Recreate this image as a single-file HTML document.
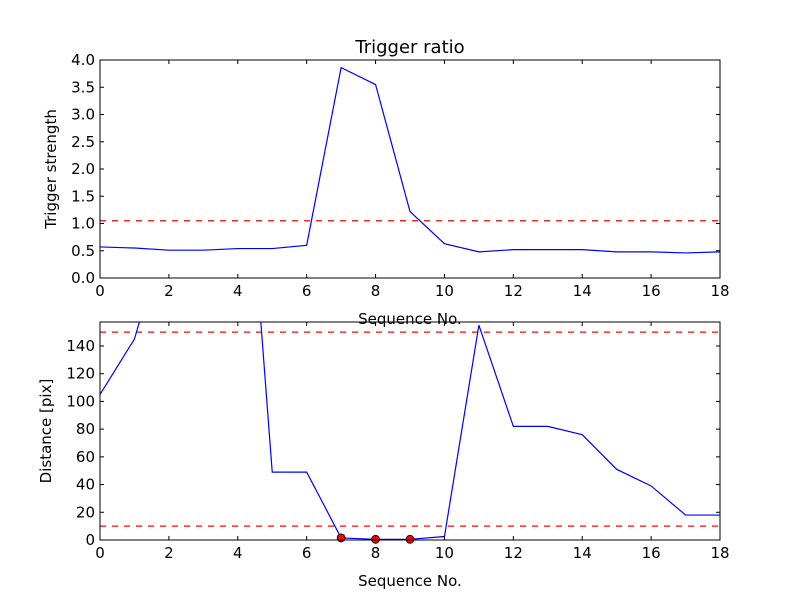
<!DOCTYPE html>
<html><head><meta charset="utf-8"><style>
body{margin:0;background:#fff;}
svg text{font-family:"DejaVu Sans","Liberation Sans",sans-serif;}
</style></head><body>
<svg id="chart" width="800" height="600" viewBox="0 0 800 600" xmlns="http://www.w3.org/2000/svg">
<rect width="800" height="600" fill="#fff"/>
</svg>
<script>
const seqNo = [0,1,2,3,4,5,6,7,8,9,10,11,12,13,14,15,16,17,18];
const triggerStrength = [0.57,0.55,0.51,0.51,0.54,0.54,0.6,3.86,3.55,1.22,0.63,0.48,0.52,0.52,0.52,0.48,0.48,0.46,0.48];
const triggerThreshold = [1.05];
const distance = [105,145,231,300,376,49,49,1.5,0.5,0.5,2.5,155,82,82,76,51,39,18,18];
const distThresholds = [150,10];
const markedIdx = [7,8,9];
const xTicks = [0,2,4,6,8,10,12,14,16,18];
const yTicksTop = [0,0.5,1.0,1.5,2.0,2.5,3.0,3.5,4.0];
const yTicksBot = [0,20,40,60,80,100,120,140];

const svg = document.getElementById('chart');
const NS = 'http://www.w3.org/2000/svg';
function mk(tag, attrs, parent){const e=document.createElementNS(NS,tag);for(const k in attrs)e.setAttribute(k,attrs[k]);(parent||svg).appendChild(e);return e;}

function panel(cfg){
  const {top,bot,ymin,ymax,yTicks,fmt,name} = cfg;
  const L=100,R=720;
  const x=v=>L+(v-0)/(18-0)*(R-L);
  const y=v=>bot-(v-ymin)/(ymax-ymin)*(bot-top);
  const g = mk('g',{});
  
  
  const cid = 'clip-'+name;
  const cp = mk('clipPath',{id:cid},g); mk('rect',{x:L,y:top,width:R-L,height:bot-top},cp);
  const plot = mk('g',{'clip-path':'url(#'+cid+')'},g);
  // thresholds
  cfg.thr.forEach(t=>{
    const l = mk('line',{x1:L,x2:R,y1:y(t),y2:y(t),stroke:'#ff0000','stroke-width':1.2,'stroke-dasharray':'6,6'},plot);
    
    
  });
  const pts = cfg.vals.map((v,i)=>x(seqNo[i])+','+y(v)).join(' ');
  const pl = mk('polyline',{points:pts,fill:'none',stroke:'#0000ff','stroke-width':1.2},plot);
  
  
  (cfg.markers||[]).forEach(i=>{
    const c = mk('circle',{cx:x(seqNo[i]),cy:y(cfg.vals[i]),r:4,fill:'#ff0000',stroke:'#000','stroke-width':0.8},g);
    
    
  });
  const frame = mk('rect',{x:L,y:top,width:R-L,height:bot-top,fill:'none',stroke:'#000','stroke-width':1},g);
  
  
  xTicks.forEach(t=>{
    mk('line',{x1:x(t),x2:x(t),y1:bot,y2:bot-4,stroke:'#000'},g);
    mk('line',{x1:x(t),x2:x(t),y1:top,y2:top+4,stroke:'#000'},g);
    const tx = mk('text',{x:x(t),y:bot+18,'text-anchor':'middle','font-size':15},g);
    tx.textContent=t;
    
    
  });
  yTicks.forEach(t=>{
    mk('line',{x1:L,x2:L+4,y1:y(t),y2:y(t),stroke:'#000'},g);
    mk('line',{x1:R,x2:R-4,y1:y(t),y2:y(t),stroke:'#000'},g);
    const tx = mk('text',{x:L-5,y:y(t)+5,'text-anchor':'end','font-size':15},g);
    tx.textContent=fmt(t);
    
    
  });
  const xl = mk('text',{x:410,y:bot+46,'text-anchor':'middle','font-size':15},g);
  xl.textContent='Sequence No.';
  
  
  const yl = mk('text',{x:0,y:0,'text-anchor':'middle','font-size':15,transform:'translate('+cfg.ylx+','+((top+bot)/2)+') rotate(-90)'},g);
  yl.textContent=cfg.ylabel;
  
  
}

const title = mk('text',{x:410,y:53,'text-anchor':'middle','font-size':18});
title.textContent='Trigger ratio';



panel({name:'trigger',top:60,bot:278,ymin:0,ymax:4,yTicks:yTicksTop,fmt:t=>t.toFixed(1),vals:triggerStrength,thr:triggerThreshold,ylabel:'Trigger strength',ylx:56});
panel({name:'distance',top:322,bot:540,ymin:0,ymax:157.3,yTicks:yTicksBot,fmt:t=>String(t),vals:distance,thr:distThresholds,markers:markedIdx,ylabel:'Distance [pix]',ylx:51});
</script>
</body></html>
